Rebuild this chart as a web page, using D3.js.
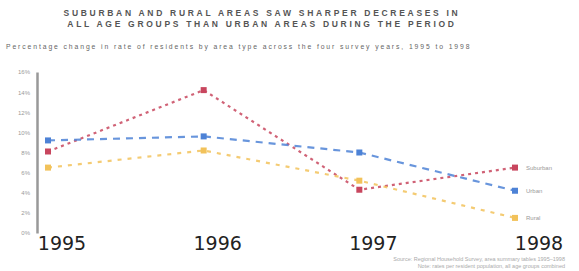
<!DOCTYPE html>
<html lang="en">
<head>
  <meta charset="UTF-8">
  <title>Area rates 1995-1998</title>
  <script src="https://d3js.org/d3.v7.min.js"></script>
</head>
<style>
  :root {
    --text-color: #8a8a8a;
    --bg-color: #ffffff;
  }
  body { margin: 0; background: var(--bg-color); }
  * { font-family: "Liberation Sans", sans-serif; }
  .figuretitle { font-size: 8.5px; font-weight: 700; fill: #555; letter-spacing: 2.7px; }
  .subtitle { font-size: 6.8px; fill: #666; letter-spacing: 1.9px; }
  .axis text { font-size: 6px; fill: #9a9a9a; }
  .year { font-family: "DejaVu Sans", sans-serif; font-size: 19px; fill: #222; }
  .serieslabel { font-size: 6px; fill: #999; }
  .source { font-size: 5.5px; fill: #aaa; }
</style>
<body>
<div id="my_dataviz"></div>
<script>
  // ## Data
  const years = ["1995", "1996", "1997", "1998"];
  const yTicks = [0, 2, 4, 6, 8, 10, 12, 14, 16];
  const urban = [9.2, 9.6, 8.0, 4.2];
  const suburban = [8.1, 14.2, 4.3, 6.5];
  const rural = [6.5, 8.2, 5.2, 1.5];
  const seriesNames = ["Suburban", "Urban", "Rural"];

  const dimensions = { width: 579, height: 271 };

  const svg = d3.select("#my_dataviz")
    .append("svg")
      .attr("width", dimensions.width)
      .attr("height", dimensions.height);

  // ## Header
  svg.append("text").attr("class", "figuretitle")
    .attr("x", 262).attr("y", 16).attr("text-anchor", "middle")
    .text("SUBURBAN AND RURAL AREAS SAW SHARPER DECREASES IN");
  svg.append("text").attr("class", "figuretitle")
    .attr("x", 262).attr("y", 27).attr("text-anchor", "middle")
    .text("ALL AGE GROUPS THAN URBAN AREAS DURING THE PERIOD");
  svg.append("text").attr("class", "subtitle")
    .attr("x", 6).attr("y", 49)
    .text("Percentage change in rate of residents by area type across the four survey years, 1995 to 1998");

  // ## Scales
  const xScale = d3.scalePoint()
    .domain(years)
    .range([48, 515]);

  const yScale = d3.scaleLinear()
    .domain([0, 16])
    .range([233, 72]);

  // ## Axis
  const yAxis = svg.append("g")
    .attr("class", "axis")
    .attr("transform", "translate(37,0)")
    .call(d3.axisLeft(yScale)
      .tickValues(yTicks)
      .tickSize(0)
      .tickPadding(7)
      .tickFormat(d => d + "%"))
    .call(g => g.select(".domain")
      .attr("stroke", "#999")
      .attr("stroke-width", 2.5));

  svg.selectAll(".year")
    .data(years)
    .enter()
    .append("text")
      .attr("class", "year")
      .attr("x", d => xScale(d) + (d === "1998" ? 24 : 14))
      .attr("y", 250)
      .attr("text-anchor", "middle")
      .text(d => d);

  // ## Lines
  const series = [
    { name: seriesNames[0], values: suburban, color: "#c8465e", dash: "3,4" },
    { name: seriesNames[1], values: urban, color: "#4d82d6", dash: "7,6" },
    { name: seriesNames[2], values: rural, color: "#f2c25a", dash: "4,6" }
  ];

  const line = d3.line()
    .x((d, i) => xScale(years[i]))
    .y(d => yScale(d));

  series.forEach(s => {
    svg.append("path")
      .datum(s.values)
      .attr("fill", "none")
      .attr("stroke", s.color)
      .attr("stroke-width", 2.2)
      .attr("stroke-dasharray", s.dash)
      .attr("opacity", 0.85)
      .attr("d", line);

    svg.selectAll(null)
      .data(s.values)
      .enter()
      .append("rect")
        .attr("x", (d, i) => xScale(years[i]) - 3)
        .attr("y", d => yScale(d) - 3)
        .attr("width", 6)
        .attr("height", 6)
        .attr("fill", s.color);

    svg.append("text")
      .attr("class", "serieslabel")
      .attr("x", xScale(years[3]) + 11)
      .attr("y", yScale(s.values[3]) + 2)
      .text(s.name);
  });

  // ## Source
  svg.append("text").attr("class", "source")
    .attr("x", 565).attr("y", 261).attr("text-anchor", "end")
    .text("Source: Regional Household Survey, area summary tables 1995–1998");
  svg.append("text").attr("class", "source")
    .attr("x", 565).attr("y", 268).attr("text-anchor", "end")
    .text("Note: rates per resident population, all age groups combined");
</script>
</body>
</html>
